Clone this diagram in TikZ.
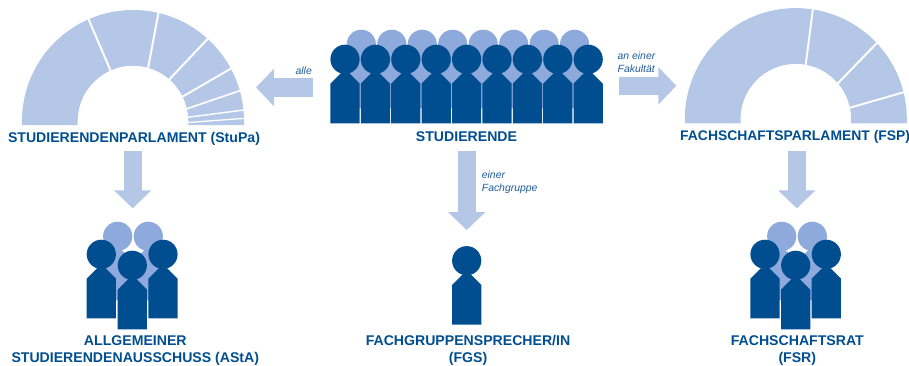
\documentclass[tikz,border=0pt]{standalone}
\usepackage{fontspec}
\setmainfont{Liberation Sans}
\usetikzlibrary{arrows.meta}
\definecolor{dark}{HTML}{004E90}
\definecolor{mid}{HTML}{8EA9DB}
\definecolor{pale}{HTML}{B4C7E7}
\definecolor{labelblue}{HTML}{1F5C9A}
\tikzset{
  x=1pt,y=1pt,
  title/.style={font=\fontsize{14.1}{17.3}\selectfont\bfseries,text=dark,align=center,inner sep=0pt},
  note/.style={font=\fontsize{10.4}{12.7}\selectfont\itshape,text=labelblue,align=left,inner sep=0pt},
  flow/.style={draw=pale,line width=18.4pt,-{Triangle[length=18pt,width=36.4pt,fill=pale]}},
  pics/person/.style={code={
    \fill[#1] (0,0) circle[radius=14.6pt];
    \fill[#1] (-14.6,-64) -- (-14.6,-24.3) -- (0,-9.7) -- (14.6,-24.3) -- (14.6,-64) -- cycle;
  }},
}
\newcommand{\parliament}[4]{%
  \begin{scope}[shift={(#1,#2)}]
    \fill[pale] (-111,-#3) -- (-111,0) arc[start angle=180,end angle=0,radius=111pt]
      -- (111,-#3) -- (55.3,-#3) -- (55.3,0) arc[start angle=0,end angle=180,radius=55.3pt]
      -- (-55.3,-#3) -- cycle;
    \foreach \ai/\ao/\wd in {#4} \draw[white,line width=\wd pt] (\ai:54) -- (\ao:113);
  \end{scope}}
\begin{document}
\begin{tikzpicture}
\useasboundingbox (0,0) rectangle (909,365);
\parliament{133}{244}{4}{114/113.6/2,74/76.8/2,48.9/47.7/2,26.1/28.2/1.9,12.6/15.9/1.7,3.8/5.7/1.4,-1.7/1.4/1.3}
\parliament{795.8}{245.9}{4.2}{79.6/81.2/1.9,40.3/43.2/2,11.8/14/1.9}
% students
\foreach \i in {0,...,7} \pic at ({361.3+30.47*\i},320.7) {person=mid};
\foreach \i in {0,...,8} \pic at ({345+30.4*\i},305.7) {person=dark};
% AStA
\pic at (117.7,128.7) {person=mid};
\pic at (148.3,128.7) {person=mid};
\pic at (101.3,110.7) {person=dark};
\pic at (163,110.7) {person=dark};
\pic at (132.3,99.7) {person=dark};
% FSR
\pic at (781.7,128.7) {person=mid};
\pic at (812.3,128.7) {person=mid};
\pic at (765,110.7) {person=dark};
\pic at (826.3,110.7) {person=dark};
\pic at (795.7,99.7) {person=dark};
% FGS
\pic at (466.7,104.3) {person=dark};
% labels
\node[title] (stupa) at (134,225.7) {STUDIERENDENPARLAMENT (StuPa)};
\node[title] (stud) at (466.5,228.3) {STUDIERENDE};
\node[title,anchor=west,font=\fontsize{13.9}{17.3}\selectfont\bfseries] (fsp) at (680,228.3) {FACHSCHAFTSPARLAMENT (FSP)};
\node[title] (asta) at (135.3,14.4) {ALLGEMEINER\\STUDIERENDENAUSSCHUSS (AStA)};
\node[title] (fgs) at (468,14.4) {FACHGRUPPENSPRECHER/IN\\(FGS)};
\node[title] (fsr) at (797.3,14.4) {FACHSCHAFTSRAT\\(FSR)};
\node[note,anchor=east] (alle) at (312,294) {alle};
\node[note,anchor=west] (fak) at (617.5,303) {an einer\\Fakultät};
\node[note,anchor=west] (fach) at (481.7,183) {einer\\Fachgruppe};
% connectors
\coordinate (a1) at (313,277.5); \coordinate (a2) at (256,277.5);
\coordinate (b1) at (619,279.2); \coordinate (b2) at (676.3,279.2);
\coordinate (c1) at (132.7,214); \coordinate (c2) at (132.7,156.7);
\coordinate (d1) at (466.7,213.7); \coordinate (d2) at (466.7,135);
\coordinate (e1) at (796.8,214); \coordinate (e2) at (796.8,156.7);
\draw[flow] (a1) -- (a2);
\draw[flow] (b1) -- (b2);
\draw[flow] (c1) -- (c2);
\draw[flow] (d1) -- (d2);
\draw[flow] (e1) -- (e2);
\end{tikzpicture}
\end{document}
